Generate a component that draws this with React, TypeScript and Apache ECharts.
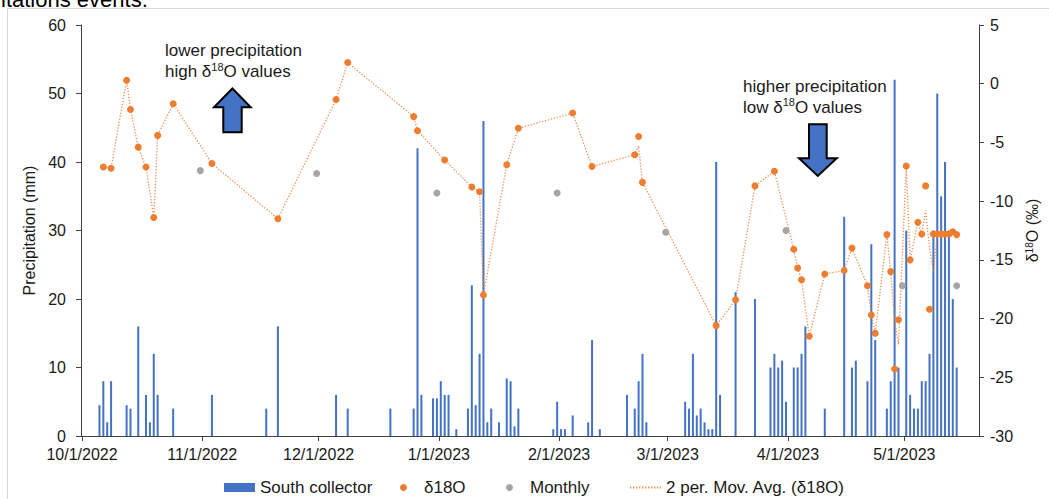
import React, { useEffect, useRef } from 'react';
import * as echarts from 'echarts';

// ---- data ----
const rainDates = [
  '2022-10-05','2022-10-06','2022-10-07','2022-10-08','2022-10-12','2022-10-13','2022-10-15','2022-10-17','2022-10-18','2022-10-19',
  '2022-10-20','2022-10-24','2022-11-03','2022-11-17','2022-11-20','2022-12-05','2022-12-08','2022-12-19','2022-12-25','2022-12-26',
  '2022-12-27','2022-12-30','2022-12-31','2023-01-01','2023-01-02','2023-01-03','2023-01-05','2023-01-08','2023-01-09','2023-01-10',
  '2023-01-11','2023-01-12','2023-01-13','2023-01-14','2023-01-16','2023-01-18','2023-01-19','2023-01-20','2023-01-21','2023-01-30',
  '2023-01-31','2023-02-01','2023-02-02','2023-02-04','2023-02-08','2023-02-09','2023-02-11','2023-02-18','2023-02-20','2023-02-21',
  '2023-02-22','2023-02-23','2023-03-05','2023-03-06','2023-03-07','2023-03-08','2023-03-09','2023-03-10','2023-03-11','2023-03-12',
  '2023-03-13','2023-03-14','2023-03-18','2023-03-23','2023-03-27','2023-03-28','2023-03-29','2023-03-30','2023-03-31','2023-04-02',
  '2023-04-03','2023-04-04','2023-04-05','2023-04-10','2023-04-15','2023-04-17','2023-04-18','2023-04-21','2023-04-22','2023-04-23',
  '2023-04-26','2023-04-27','2023-04-28','2023-04-29','2023-05-01','2023-05-02','2023-05-03','2023-05-04','2023-05-05','2023-05-06',
  '2023-05-07','2023-05-08','2023-05-09','2023-05-10','2023-05-11','2023-05-12','2023-05-13','2023-05-14'
];
const rainMm = [
  4.5, 8, 2, 8, 4.5, 4, 16, 6, 2, 12,
  6, 4, 6, 4, 16, 6, 4, 4, 4, 42,
  6, 5.5, 5.5, 8, 6, 6, 1, 4, 22, 4.5,
  12, 46, 2, 4, 2, 8.4, 8, 1.4, 4, 1,
  5, 1, 1, 3, 2, 14, 1, 6, 4, 8,
  12, 2, 5, 4, 12, 3, 4, 2, 1, 1,
  40, 6, 21, 20, 10, 12, 10, 11, 5, 10,
  10, 12, 16, 4, 32, 10, 11, 8, 28, 14,
  4, 8, 52, 10, 30, 6, 4, 4, 8, 8,
  12, 30, 50, 35, 40, 30, 20, 10
];

const isoDates = [
  '2022-10-06','2022-10-08','2022-10-12','2022-10-13','2022-10-15','2022-10-17','2022-10-19','2022-10-20','2022-10-24','2022-11-03',
  '2022-11-20','2022-12-05','2022-12-08','2022-12-25','2022-12-26','2023-01-02','2023-01-09','2023-01-11','2023-01-12','2023-01-18',
  '2023-01-21','2023-02-04','2023-02-09','2023-02-20','2023-02-21','2023-02-22','2023-03-13','2023-03-18','2023-03-23','2023-03-28',
  '2023-04-02','2023-04-03','2023-04-04','2023-04-06','2023-04-10','2023-04-15','2023-04-17','2023-04-21','2023-04-22','2023-04-23',
  '2023-04-26','2023-04-27','2023-04-28','2023-04-29','2023-05-01','2023-05-02','2023-05-04','2023-05-05','2023-05-06','2023-05-07',
  '2023-05-08','2023-05-09','2023-05-10','2023-05-11','2023-05-12','2023-05-13','2023-05-14'
];
const isoValues = [
  -7.1, -7.2, 0.3, -2.2, -5.4, -7.1, -11.4, -4.4, -1.7, -6.8,
  -11.5, -1.35, 1.8, -2.8, -4.0, -6.5, -8.8, -9.2, -18.0, -6.9,
  -3.8, -2.5, -7.05, -6.05, -4.5, -8.4, -20.6, -18.4, -8.7, -7.45,
  -14.1, -15.7, -16.7, -21.5, -16.2, -15.9, -14.0, -17.2, -19.7, -21.25,
  -12.85, -16.0, -24.3, -20.1, -7.0, -15.0, -11.8, -12.8, -8.7, -19.2,
  -12.8, -12.8, -12.8, -12.8, -12.8, -12.6, -12.85
];

const monthlyDates = ['2022-10-31','2022-11-30','2022-12-31','2023-01-31','2023-02-28','2023-03-31','2023-04-30','2023-05-14'];
const monthlyValues = [-7.4, -7.65, -9.3, -9.3, -12.65, -12.5, -17.2, -17.2];

const maDates = [
  '2022-10-06','2022-10-08','2022-10-12','2022-10-13','2022-10-15','2022-10-17','2022-10-19','2022-10-20','2022-10-24','2022-11-03',
  '2022-11-20','2022-12-05','2022-12-08','2022-12-25','2022-12-26','2023-01-02','2023-01-09','2023-01-11','2023-01-12','2023-01-18',
  '2023-01-21','2023-02-04','2023-02-09','2023-02-20','2023-02-21','2023-02-22','2023-03-13','2023-03-18','2023-03-23','2023-03-28',
  '2023-04-02','2023-04-03','2023-04-04','2023-04-06','2023-04-10','2023-04-15','2023-04-17','2023-04-21','2023-04-22','2023-04-23',
  '2023-04-26','2023-04-27','2023-04-28','2023-04-29','2023-05-01','2023-05-02','2023-05-04','2023-05-05','2023-05-06','2023-05-07',
  '2023-05-08','2023-05-09','2023-05-10','2023-05-11','2023-05-12','2023-05-13','2023-05-14'
];
const maValues = [
  -7.1, -7.2, 0.3, -2.2, -5.4, -7.1, -11.4, -4.4, -1.7, -6.8,
  -11.5, -1.35, 1.8, -2.8, -4.0, -6.5, -8.8, -9.2, -18.0, -6.9,
  -3.8, -2.5, -7.05, -6.05, -5.3, -8.4, -20.6, -18.4, -8.7, -7.45,
  -14.1, -15.7, -16.7, -21.5, -16.2, -15.9, -14.0, -17.2, -19.7, -21.25,
  -12.85, -16.0, -20.15, -22.2, -7.0, -15.0, -11.8, -12.8, -10.8, -14.0,
  -16.0, -12.8, -12.8, -12.8, -12.8, -12.7, -12.8
];

const FONT = '"Liberation Sans", Arial, sans-serif';
const DAY = 86400000;
const noon = (d: string) => new Date(d + 'T12:00:00').getTime();
const pair = (ds: string[], vs: number[]) => ds.map((d, i) => [noon(d), vs[i]]);

const AXIS_COLOR = '#404040';
const TEXT_COLOR = '#1a1a1a';

export default function App() {
  const ref = useRef<HTMLDivElement>(null);
  useEffect(() => {
    if (!ref.current) return;
    const chart = echarts.init(ref.current, undefined, { renderer: 'svg' });
    const legendText = { fontSize: 17, color: TEXT_COLOR, fontFamily: FONT };
    const legendBase = { top: 479, padding: 0, itemWidth: 31, textStyle: legendText };
    const option: any = {
      animation: false,
      backgroundColor: '#ffffff',
      textStyle: { fontFamily: FONT },
      grid: { left: 81, right: 70, top: 25, bottom: 63 },
      xAxis: {
        type: 'time',
        min: new Date('2022-10-01T00:00:00').getTime(),
        max: new Date('2023-05-20T00:00:00').getTime(),
        minInterval: 28 * DAY,
        maxInterval: 31 * DAY,
        splitLine: { show: false },
        axisLine: { lineStyle: { color: AXIS_COLOR, width: 1 } },
        axisTick: { show: true, length: 5, lineStyle: { color: AXIS_COLOR } },
        axisLabel: { formatter: '{M}/{d}/{yyyy}', color: TEXT_COLOR, fontSize: 16, margin: 10, hideOverlap: false },
      },
      yAxis: [
        {
          type: 'value', min: 0, max: 60, interval: 10,
          name: 'Precipitation (mm)', nameLocation: 'middle', nameGap: 41,
          nameTextStyle: { fontSize: 16, color: TEXT_COLOR, fontFamily: FONT },
          axisLine: { show: true, lineStyle: { color: AXIS_COLOR } },
          axisTick: { show: true, length: 5, lineStyle: { color: AXIS_COLOR } },
          splitLine: { show: false },
          axisLabel: { fontSize: 16, color: TEXT_COLOR, margin: 15 },
        },
        {
          type: 'value', position: 'right', min: -30, max: 5, interval: 5,
          name: 'δ{sup|18}O (‰)', nameLocation: 'middle', nameGap: 39,
          nameTextStyle: {
            fontSize: 16, color: TEXT_COLOR, fontFamily: FONT,
            rich: { sup: { fontSize: 10, color: TEXT_COLOR, fontFamily: FONT, verticalAlign: 'top', lineHeight: 12 } },
          },
          axisLine: { show: true, lineStyle: { color: AXIS_COLOR } },
          axisTick: { show: true, length: 5, lineStyle: { color: AXIS_COLOR } },
          splitLine: { show: false },
          axisLabel: { fontSize: 16, color: TEXT_COLOR, margin: 11 },
        },
      ],
      legend: [
        { ...legendBase, data: [{ name: 'South collector', icon: 'rect' }], left: 224, itemHeight: 9 },
        { ...legendBase, data: [{ name: 'δ18O', icon: 'circle' }], left: 400, itemHeight: 7 },
        { ...legendBase, data: [{ name: 'Monthly', icon: 'circle' }], left: 506, itemHeight: 7 },
        {
          ...legendBase,
          data: [{ name: '2 per. Mov. Avg. (δ18O)', itemStyle: { opacity: 0 } }],
          left: 629, itemHeight: 9,
        },
      ],
      series: [
        {
          type: 'bar', name: 'South collector', yAxisIndex: 0,
          data: pair(rainDates, rainMm), barWidth: 2,
          itemStyle: { color: '#4472C4' }, z: 1,
        },
        {
          type: 'line', name: '2 per. Mov. Avg. (δ18O)', yAxisIndex: 1,
          data: pair(maDates, maValues), symbol: 'none', showSymbol: false,
          lineStyle: { color: '#ED7D31', width: 1.3, type: [1.3, 1.7], opacity: 0.85 },
          itemStyle: { color: '#ED7D31' }, z: 2,
        },
        {
          type: 'scatter', name: 'δ18O', yAxisIndex: 1,
          data: pair(isoDates, isoValues), symbolSize: 7,
          itemStyle: { color: '#ED7D31', opacity: 1 }, z: 3,
        },
        {
          type: 'scatter', name: 'Monthly', yAxisIndex: 1,
          data: pair(monthlyDates, monthlyValues), symbolSize: 7,
          itemStyle: { color: '#A5A5A5', opacity: 1 }, z: 3,
        },
      ],
      graphic: [
        {
          type: 'rect', z: -10, silent: true,
          shape: { x: 7.5, y: 8.5, width: 1200, height: 600 },
          style: { fill: 'none', stroke: '#d9d9d9', lineWidth: 1 },
        },
        {
          type: 'text', x: 1, y: -1, silent: true,
          style: { text: 'itations events.', fontSize: 22, fontFamily: FONT, fill: '#000', verticalAlign: 'middle', align: 'left' },
        },
        {
          type: 'text', x: 165, y: 40, silent: true,
          style: {
            text: 'lower precipitation\nhigh δ{sup|18}O values',
            fontSize: 17, lineHeight: 21, fontFamily: FONT, fill: TEXT_COLOR, verticalAlign: 'top', align: 'left',
            rich: { sup: { fontSize: 11, fontFamily: FONT, fill: TEXT_COLOR, verticalAlign: 'top', lineHeight: 16 } },
          },
        },
        {
          type: 'text', x: 743, y: 75.5, silent: true,
          style: {
            text: 'higher precipitation\nlow δ{sup|18}O values',
            fontSize: 17, lineHeight: 21, fontFamily: FONT, fill: TEXT_COLOR, verticalAlign: 'top', align: 'left',
            rich: { sup: { fontSize: 11, fontFamily: FONT, fill: TEXT_COLOR, verticalAlign: 'top', lineHeight: 16 } },
          },
        },
        {
          type: 'polygon', silent: true,
          shape: { points: [[232.4, 88.5], [250.7, 107.3], [241.7, 107.3], [241.7, 132.3], [223.3, 132.3], [223.3, 107.3], [214, 107.3]] },
          style: { fill: '#4472C4', stroke: '#000', lineWidth: 2 },
        },
        {
          type: 'polygon', silent: true,
          shape: { points: [[809, 124.3], [826.7, 124.3], [826.7, 158.3], [836.7, 158.3], [817.8, 176], [799, 158.3], [809, 158.3]] },
          style: { fill: '#4472C4', stroke: '#000', lineWidth: 2 },
        },
      ],
    };
    chart.setOption(option);
    return () => chart.dispose();
  }, []);
  return (
    <div
      ref={ref}
      style={{ position: 'absolute', left: 0, top: 0, width: 1049, height: 499, background: '#fff' }}
    />
  );
}
